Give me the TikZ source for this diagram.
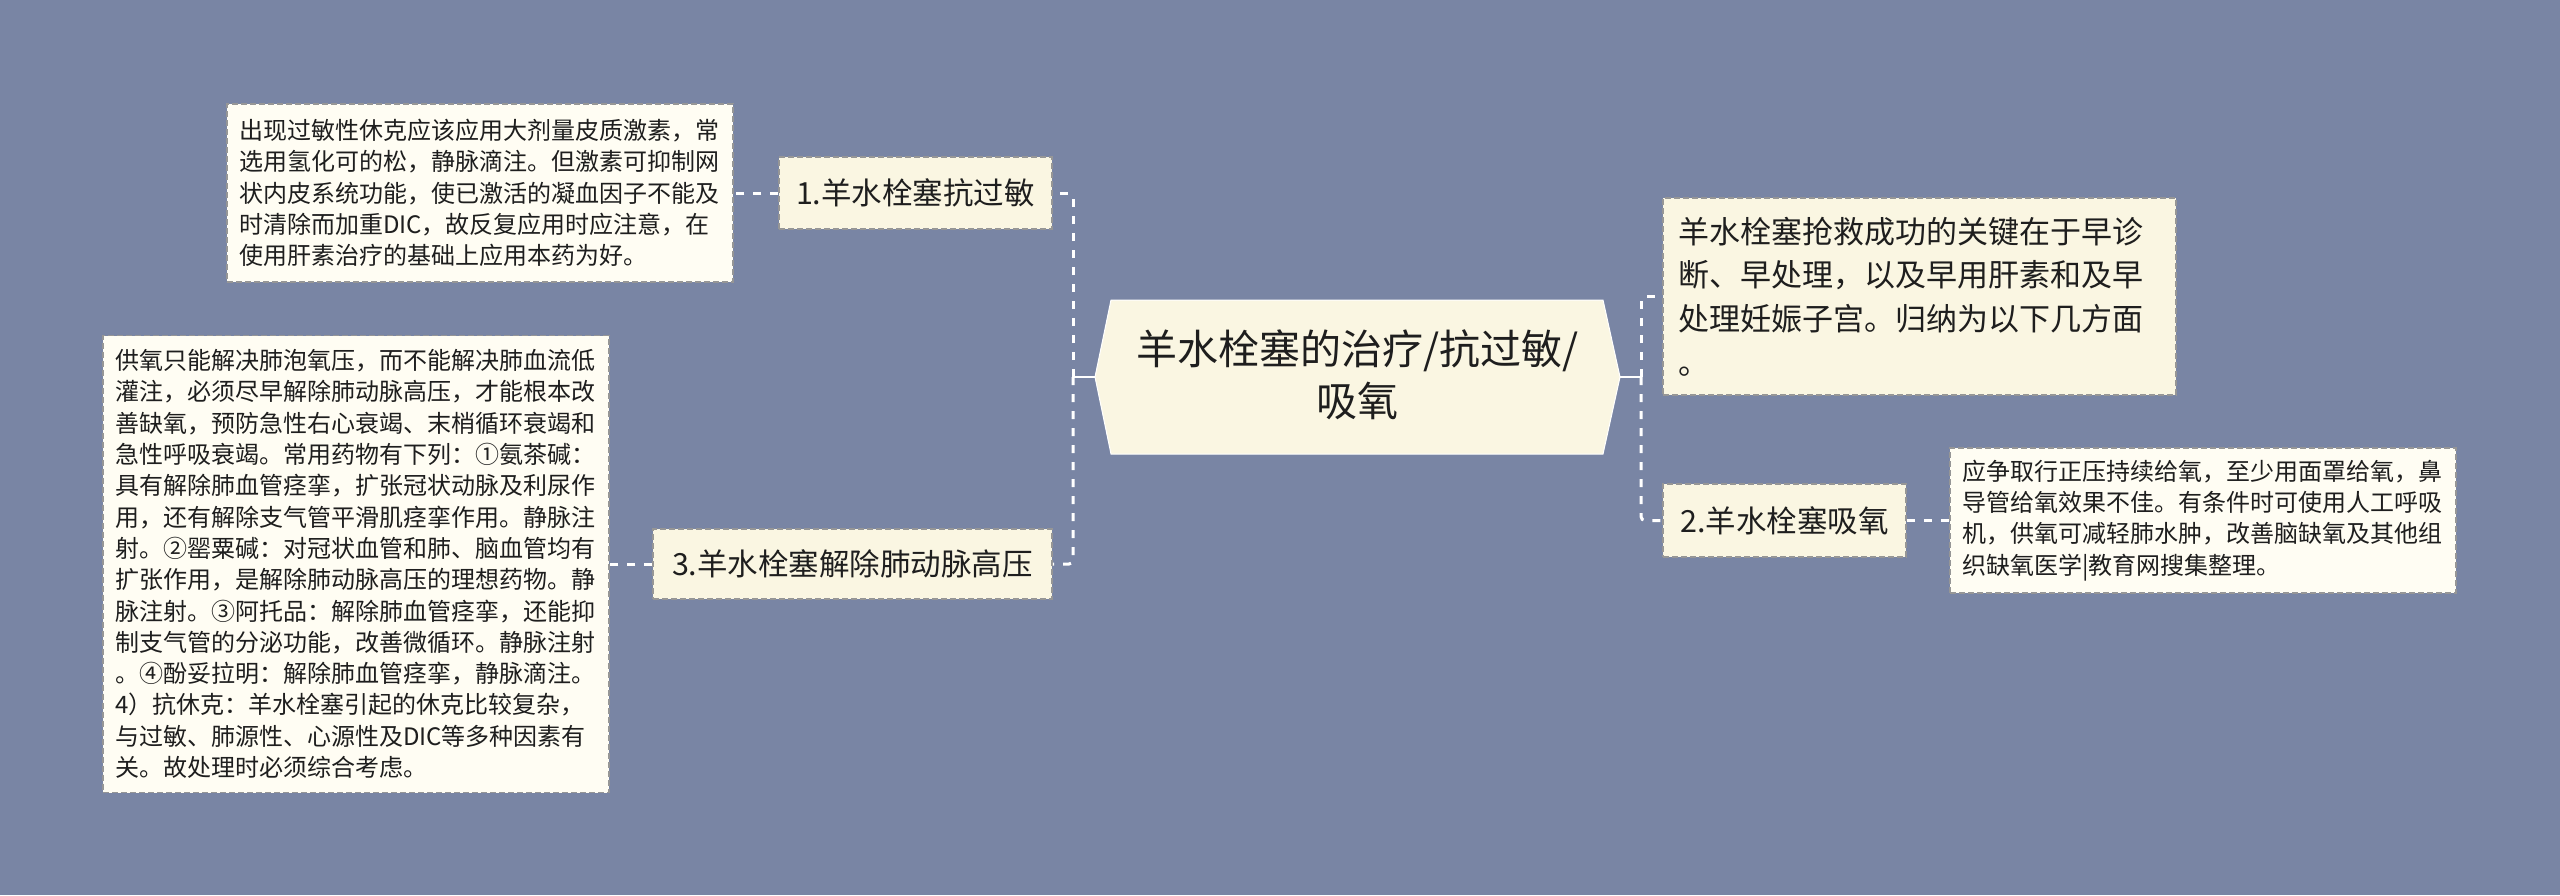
\documentclass[tikz,border=0pt]{standalone}
\usepackage{fontspec}
\newfontfamily\cjk{Noto Sans CJK SC}
\definecolor{bg}{RGB}{121,133,164}
\definecolor{cream}{RGB}{250,246,226}
\definecolor{paper}{RGB}{255,253,243}
\definecolor{bordergray}{RGB}{150,150,150}
\definecolor{txt}{RGB}{30,30,30}
\tikzset{
  box/.style={draw=bordergray, line width=1.5pt, dash pattern=on 6pt off 3pt, inner sep=0pt, text=txt},
  topic/.style={box, fill=cream, font=\cjk\fontsize{30.5}{36}\selectfont},
  desc/.style={box, fill=paper, align=left, font=\cjk\fontsize{24}{31.3}\selectfont, inner xsep=12pt, text width=482pt},
  link/.style={draw=white, line width=3pt, dash pattern=on 8pt off 9pt, rounded corners=4pt},
  solidlink/.style={draw=white, line width=2.5pt},
  hexshape/.style={fill=cream, draw=white, line width=1pt}
}
\begin{document}
\begin{tikzpicture}[x=1pt,y=-1pt]
\useasboundingbox[fill=bg] (0,0) rectangle (2560,895);

% central topic
\path[hexshape] (1095,377) coordinate (rw) -- (1111,300) -- (1603,300) -- (1620,377) coordinate (re) -- (1603,454) -- (1111,454) -- cycle;
\node[font=\cjk\fontsize{41}{52}\selectfont, align=center, text=txt, inner sep=0pt] (root) at (1357.5,375) {羊水栓塞的治疗/抗过敏/\\吸氧};

% left side
\node[desc, minimum height=178pt] (d1) at (480,193) {出现过敏性休克应该应用大剂量皮质激素，常\\选用氢化可的松，静脉滴注。但激素可抑制网\\状内皮系统功能，使已激活的凝血因子不能及\\时清除而加重DIC，故反复应用时应注意，在\\使用肝素治疗的基础上应用本药为好。};
\node[topic, minimum width=273pt, minimum height=72pt] (a) at (915.5,193) {1.羊水栓塞抗过敏};
\node[desc, minimum height=457pt] (d2) at (356,564) {供氧只能解决肺泡氧压，而不能解决肺血流低\\灌注，必须尽早解除肺动脉高压，才能根本改\\善缺氧，预防急性右心衰竭、末梢循环衰竭和\\急性呼吸衰竭。常用药物有下列：①氨茶碱：\\具有解除肺血管痉挛，扩张冠状动脉及利尿作\\用，还有解除支气管平滑肌痉挛作用。静脉注\\射。②罂粟碱：对冠状血管和肺、脑血管均有\\扩张作用，是解除肺动脉高压的理想药物。静\\脉注射。③阿托品：解除肺血管痉挛，还能抑\\制支气管的分泌功能，改善微循环。静脉注射\\。④酚妥拉明：解除肺血管痉挛，静脉滴注。\\4）抗休克：羊水栓塞引起的休克比较复杂，\\与过敏、肺源性、心源性及DIC等多种因素有\\关。故处理时必须综合考虑。};
\node[topic, minimum width=399pt, minimum height=70pt] (c) at (852.5,564) {3.羊水栓塞解除肺动脉高压};

% right side
\node[box, fill=cream, align=left, font=\cjk\fontsize{31}{43.6}\selectfont, inner xsep=15pt, text width=483pt, minimum height=197pt] (r1) at (1919.5,296.5) {羊水栓塞抢救成功的关键在于早诊\\断、早处理，以及早用肝素和及早\\处理妊娠子宫。归纳为以下几方面\\。};
\node[topic, minimum width=243pt, minimum height=73pt] (b) at (1784.5,520.5) {2.羊水栓塞吸氧};
\node[desc, minimum height=145pt] (r2) at (2203,520.5) {应争取行正压持续给氧，至少用面罩给氧，鼻\\导管给氧效果不佳。有条件时可使用人工呼吸\\机，供氧可减轻肺水肿，改善脑缺氧及其他组\\织缺氧医学|教育网搜集整理。};

% connectors
\coordinate (jl) at (1073,377);
\coordinate (jr) at (1641,377);
\draw[solidlink] (rw) -- (jl);
\draw[link] (jl) |- (a.east);
\draw[link] (jl) |- (c.east);
\draw[solidlink] (re) -- (jr);
\draw[link] (jr) |- (r1.west);
\draw[link] (jr) |- (b.west);
\draw[link] (a.west) -- (d1.east);
\draw[link] (c.west) -- (d2.east);
\draw[link] (b.east) -- (r2.west);
\end{tikzpicture}
\end{document}
